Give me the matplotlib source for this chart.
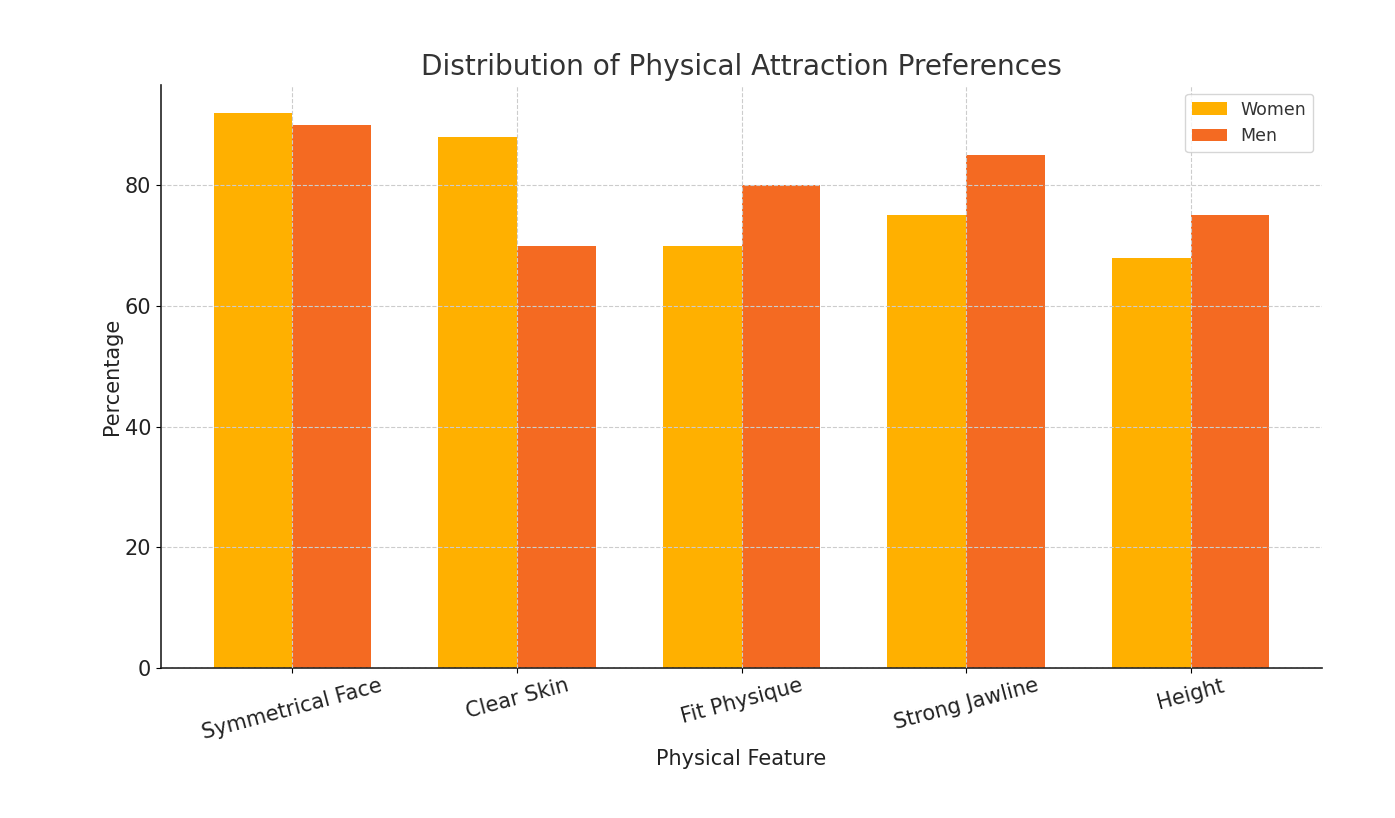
import matplotlib
matplotlib.use("Agg")
import matplotlib.pyplot as plt
import numpy as np

categories = ["Symmetrical Face", "Clear Skin", "Fit Physique", "Strong Jawline", "Height"]
women = [92, 88, 70, 75, 68]
men = [90, 70, 80, 85, 75]

fig = plt.figure(figsize=(13.95, 8.18), dpi=100)
ax = fig.add_axes([161/1395, 1-668/818, (1322-161)/1395, (668-85)/818])

x = np.arange(len(categories))
w = 0.35
ax.bar(x - w/2, women, w, label="Women", color="#FFB000")
ax.bar(x + w/2, men, w, label="Men", color="#F46A22")

ax.set_axisbelow(False)
ax.grid(True, linestyle="--", color="#cccccc", linewidth=0.8)
ax.set_xticks(x)
ax.set_xticklabels(categories, rotation=15, fontsize=15, color="#222222")
ax.tick_params(axis="x", pad=2)
ax.tick_params(axis="y", labelsize=15, labelcolor="#222222")
ax.set_xlabel("Physical Feature", fontsize=15, color="#222222", labelpad=4.5)
ax.set_ylabel("Percentage", fontsize=15, color="#222222", labelpad=2)
ax.set_title("Distribution of Physical Attraction Preferences", fontsize=20.2, color="#333333", pad=7)
for s in ["top", "right"]:
    ax.spines[s].set_visible(False)
for s in ["left", "bottom"]:
    ax.spines[s].set_color("#222222")
    ax.spines[s].set_linewidth(1.2)
leg = ax.legend(fontsize=12.5, loc="upper right", fancybox=True)
for t in leg.get_texts():
    t.set_color("#333333")

fig.savefig("out.png", dpi=100)
